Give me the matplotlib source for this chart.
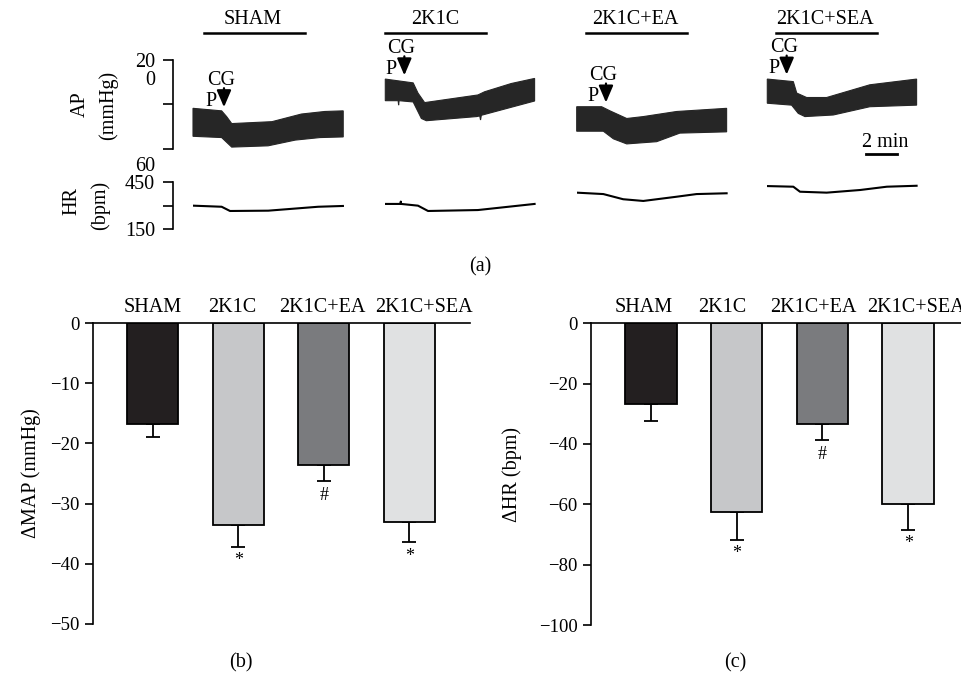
import numpy as np
import matplotlib.pyplot as plt
from matplotlib.lines import Line2D

plt.rcParams['font.family'] = ['Liberation Serif', 'DejaVu Serif']
plt.rcParams['font.size'] = 14.5

# ---- data ----
groups = ['SHAM', '2K1C', '2K1C+EA', '2K1C+SEA']
bar_colors = ['#231f20', '#c6c7c9', '#7a7b7e', '#e0e1e2']

map_mean = [-16.8, -33.5, -23.6, -33.0]
map_sem = [2.2, 3.7, 2.7, 3.4]
hr_mean = [-26.6, -62.5, -33.5, -59.8]
hr_sem = [5.7, 9.2, 5.3, 8.6]
sig_marks = ['', '*', '#', '*']

# AP traces (min, mmHg): upper / lower envelope of the pulsatile signal
ap_t_up = [[0, 1.85, 2.17, 2.5, 5.1, 7.0, 8.5, 9.7],
           [0, 1.8, 2.11, 2.54, 5.98, 6.41, 8.13, 9.64],
           [0, 1.61, 2.15, 3.23, 4.3, 6.45, 9.68],
           [0, 1.68, 1.9, 2.54, 3.83, 6.62, 9.64]]
ap_up = [[124, 120, 111, 100, 103, 115, 119, 120],
         [170, 164, 148, 133, 145, 150, 163, 171],
         [126.5, 126.5, 120, 108, 111, 119, 124],
         [170, 166, 148, 141, 141, 161, 170]]
ap_t_lo = [[0, 1.85, 2.5, 4.85, 6.6, 8.2, 9.7],
           [0, 0.83, 0.86, 0.89, 1.8, 2.33, 2.65, 5.9, 6.1, 6.15, 6.2, 9.64],
           [0, 1.72, 2.37, 3.23, 5.16, 6.66, 9.68],
           [0, 1.57, 2.0, 2.43, 4.26, 6.62, 9.64]]
ap_lo = [[80, 78, 63, 65, 74, 78, 79],
         [136, 136, 129, 136, 134, 108, 104.5, 111, 112, 105.6, 113, 135.5],
         [88, 88, 76, 68, 71.5, 85, 87],
         [132, 129, 116, 111, 113.5, 126.5, 129]]

# HR traces (min, bpm)
hr_t = [[0, 1.85, 2.39, 4.86, 8.08, 9.68],
        [0, 0.98, 1.0, 1.02, 2.11, 2.76, 5.98, 9.64],
        [0, 1.72, 3.0, 4.3, 6.45, 7.74, 9.68],
        [0, 1.68, 2.11, 3.83, 6.0, 7.72, 9.64]]
hr_v = [[299, 292, 265, 267, 292, 297],
        [310, 310, 325, 310, 299, 265, 271, 310],
        [382, 373, 340, 329, 356, 373, 378],
        [424, 420, 388, 382, 399, 420, 426]]

cgp_time = [2.0, 1.23, 1.89, 1.25]   # CG / P injection time, min
scale_min = 2

# ---- layout helpers (pixels) ----
W, H = 961, 675
fig = plt.figure(figsize=(W / 100, H / 100), dpi=100)


def box(x0, y0, x1, y1):
    return [x0 / W, 1 - y1 / H, (x1 - x0) / W, (y1 - y0) / H]


def pt(px):
    return px * 0.72


# ---- panel (a) ----
trace_left = [193, 385.3, 576.7, 767.3]
head_x = [253, 435, 635, 825]
line_x = [(204, 305), (385, 486), (586, 687), (776, 877)]
tcol = '#262626'

for i, g in enumerate(groups):
    x0 = trace_left[i]
    ax_ap = fig.add_axes(box(x0, 60, x0 + 151, 149))
    ax_ap.set_xlim(0, 9.75)
    ax_ap.set_ylim(60, 200)
    ax_ap.axis('off')
    xs = np.concatenate([ap_t_up[i], ap_t_lo[i][::-1]])
    ys = np.concatenate([ap_up[i], ap_lo[i][::-1]])
    ax_ap.fill(xs, ys, color=tcol, lw=0.8, clip_on=False)

    # CG / P arrow
    t = cgp_time[i]
    tip = np.interp(t, ap_t_up[i], ap_up[i]) + 10
    ax_ap.annotate('', xy=(t, tip), xytext=(0, pt(19)), textcoords='offset points',
                   arrowprops=dict(arrowstyle='-|>,head_length=0.7,head_width=0.3',
                                   color='black', lw=1.6, shrinkA=0, shrinkB=0),
                   annotation_clip=False)
    ax_ap.annotate('CG', xy=(t, tip), xytext=(pt(-3), pt(27)), textcoords='offset points',
                   ha='center', va='center', annotation_clip=False)
    ax_ap.annotate('P', xy=(t, tip), xytext=(pt(-13), pt(6)), textcoords='offset points',
                   ha='center', va='center', annotation_clip=False)

    ax_hr = fig.add_axes(box(x0, 182, x0 + 151, 229))
    ax_hr.set_xlim(0, 9.75)
    ax_hr.set_ylim(150, 450)
    ax_hr.axis('off')
    ax_hr.plot(hr_t[i], hr_v[i], color='black', lw=1.5)

    fig.text(head_x[i] / W, 1 - 20 / H, g, ha='center', va='center')
    fig.add_artist(Line2D([line_x[i][0] / W, line_x[i][1] / W], [1 - 33 / H, 1 - 33 / H],
                          color='black', lw=1.8))

    if i == 3:
        ax_ap.plot([6.4, 6.4 + scale_min], [51.7, 51.7], color='black', lw=2, clip_on=False)
        ax_ap.text(6.4 + scale_min / 2 + 0.2, 71, '2 min', ha='center', va='center',
                   clip_on=False)

# brackets
br_ap = fig.add_axes(box(173, 60, 183, 149))
br_ap.set_ylim(60, 200)
br_hr = fig.add_axes(box(173, 182, 183, 229))
br_hr.set_ylim(150, 450)
for ax in (br_ap, br_hr):
    for s in ['top', 'right', 'bottom']:
        ax.spines[s].set_visible(False)
    ax.spines['left'].set_linewidth(1.2)
    ax.set_xticks([])
    ax.patch.set_visible(False)
    ax.tick_params(axis='y', direction='out', length=7.2, width=1.2, pad=5.8, labelsize=14.5)
br_ap.set_yticks([60, 130, 200], ['', '', '20'])
br_hr.set_yticks([150, 300, 450], ['150', '', '450'])
for lab, val in [('0', 168.5), ('60', 33)]:
    br_ap.annotate(lab, xy=(0, val), xycoords=br_ap.get_yaxis_transform(),
                   xytext=(-13, 0), textcoords='offset points', ha='right', va='center',
                   annotation_clip=False)

fig.text(80 / W, 1 - 104 / H, 'AP', rotation=90, ha='center', va='center')
fig.text(108 / W, 1 - 105 / H, '(mmHg)', rotation=90, ha='center', va='center')
fig.text(72 / W, 1 - 201 / H, 'HR', rotation=90, ha='center', va='center')
fig.text(100 / W, 1 - 205 / H, '(bpm)', rotation=90, ha='center', va='center')
fig.text(480 / W, 1 - 267 / H, '(a)', ha='center', va='center')


# ---- panels (b), (c) ----
def bar_panel(ax, means, sems, ymin, step, ylabel, lab_x, name_shift):
    x = np.arange(len(groups))
    ax.bar(x, means, 0.6, color=bar_colors, edgecolor='black', linewidth=1.3, zorder=2)
    ax.errorbar(x, means, yerr=[sems, np.zeros(len(x))], fmt='none', ecolor='black',
                elinewidth=1.3, capsize=4.7, capthick=1.3, zorder=1)
    for i, m in enumerate(sig_marks):
        if m:
            ax.annotate(m, xy=(i, means[i] - sems[i]), xytext=(0, -4),
                        textcoords='offset points', ha='center', va='top', fontsize=13)
    for i, g in enumerate(groups):
        ax.annotate(g, xy=(i, 1), xycoords=('data', 'axes fraction'),
                    xytext=(pt(name_shift[i]), pt(11)), textcoords='offset points',
                    ha='center', va='baseline', annotation_clip=False)
    ax.set_xlim(-0.7, 3.71)
    ax.set_ylim(ymin, 0)
    ax.spines['right'].set_visible(False)
    ax.spines['bottom'].set_visible(False)
    ax.spines['top'].set_linewidth(1.2)
    ax.spines['left'].set_linewidth(1.2)
    ax.set_xticks([])
    ax.set_yticks(np.arange(ymin, 1, step))
    ax.tick_params(axis='y', direction='out', length=6, width=1.2, labelsize=13.5)
    ax.set_ylabel(ylabel, fontsize=14.5)
    ax.yaxis.set_label_coords(lab_x, 0.5)


ax_b = fig.add_axes(box(93, 323, 470, 624))
bar_panel(ax_b, map_mean, map_sem, -50, 10, 'ΔMAP (mmHg)', -0.138, [0, -6, -1.5, 15])
ax_c = fig.add_axes(box(591, 323.3, 969, 625))
bar_panel(ax_c, hr_mean, hr_sem, -100, 20, 'ΔHR (bpm)', -0.183, [-7, -14, -9, 8])

fig.text(241 / W, 1 - 663 / H, '(b)', ha='center', va='center')
fig.text(735 / W, 1 - 663 / H, '(c)', ha='center', va='center')

fig.savefig('out.png', dpi=100)
